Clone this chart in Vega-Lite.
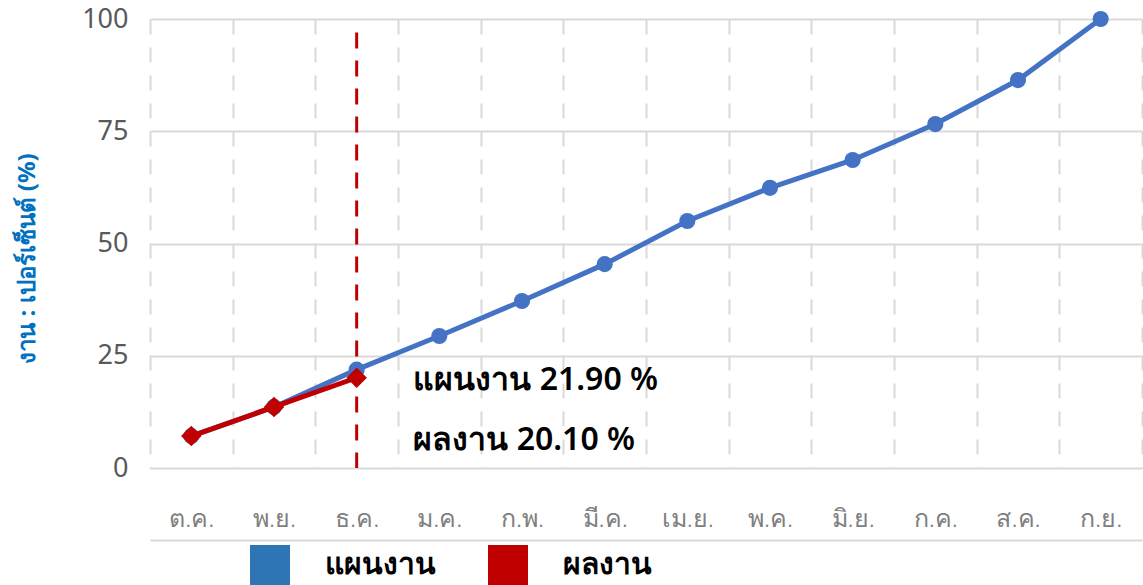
{
  "$schema": "https://vega.github.io/schema/vega-lite/v6.json",
  "width": 992,
  "height": 449,
  "autosize": {"type": "none"},
  "padding": {"left": 150, "top": 19, "right": 1, "bottom": 117},
  "background": "white",
  "config": {
    "view": {"stroke": null},
    "font": "Noto Sans"
  },
  "datasets": {
    "main": [
      {"month": "ต.ค.", "series": "แผนงาน", "value": 7.1},
      {"month": "พ.ย.", "series": "แผนงาน", "value": 13.6},
      {"month": "ธ.ค.", "series": "แผนงาน", "value": 21.9},
      {"month": "ม.ค.", "series": "แผนงาน", "value": 29.4},
      {"month": "ก.พ.", "series": "แผนงาน", "value": 37.2},
      {"month": "มี.ค.", "series": "แผนงาน", "value": 45.4},
      {"month": "เม.ย.", "series": "แผนงาน", "value": 55.0},
      {"month": "พ.ค.", "series": "แผนงาน", "value": 62.4},
      {"month": "มิ.ย.", "series": "แผนงาน", "value": 68.6},
      {"month": "ก.ค.", "series": "แผนงาน", "value": 76.6},
      {"month": "ส.ค.", "series": "แผนงาน", "value": 86.4},
      {"month": "ก.ย.", "series": "แผนงาน", "value": 100},
      {"month": "ต.ค.", "series": "ผลงาน", "value": 7.1},
      {"month": "พ.ย.", "series": "ผลงาน", "value": 13.6},
      {"month": "ธ.ค.", "series": "ผลงาน", "value": 20.1}
    ],
    "marker": [{"month": "ธ.ค.", "top": 97, "bottom": 0}],
    "notes": [
      {"month": "ม.ค.", "value": 19.6, "label": "แผนงาน 21.90 %"},
      {"month": "ม.ค.", "value": 6.3, "label": "ผลงาน 20.10 %"}
    ]
  },
  "encoding": {
    "x": {
      "field": "month",
      "type": "ordinal",
      "sort": ["ต.ค.", "พ.ย.", "ธ.ค.", "ม.ค.", "ก.พ.", "มี.ค.", "เม.ย.", "พ.ค.", "มิ.ย.", "ก.ค.", "ส.ค.", "ก.ย."],
      "scale": {"domain": ["ต.ค.", "พ.ย.", "ธ.ค.", "ม.ค.", "ก.พ.", "มี.ค.", "เม.ย.", "พ.ค.", "มิ.ย.", "ก.ค.", "ส.ค.", "ก.ย."]},
      "axis": {
        "title": null,
        "labelAngle": 0,
        "tickBand": "extent",
        "grid": true,
        "gridDash": [15, 13],
        "gridColor": "#d9d9d9",
        "gridWidth": 2,
        "ticks": false,
        "domain": true,
        "domainColor": "#d9d9d9",
        "domainWidth": 2,
        "offset": 72,
        "labelPadding": -22,
        "labelBaseline": "middle",
        "labelFontSize": 25,
        "labelFontWeight": 300,
        "labelColor": "#808080"
      }
    }
  },
  "layer": [
    {
      "data": {"name": "marker"},
      "mark": {"type": "rule", "color": "#C00000", "strokeWidth": 3, "strokeDash": [16, 12]},
      "encoding": {
        "y": {"field": "top", "type": "quantitative", "scale": {"domain": [0, 100]},
          "axis": {
            "values": [0, 25, 50, 75, 100],
            "grid": true,
            "gridColor": "#d9d9d9",
            "gridWidth": 2,
            "domain": false,
            "ticks": false,
            "labelPadding": 22,
            "labelFontSize": 27,
            "labelColor": "#595959",
            "title": "งาน : เปอร์เซ็นต์ (%)",
            "titleColor": "#0070C0",
            "titleFontSize": 24,
            "titleFontWeight": "bold",
            "titleAngle": -90,
            "titleX": -111,
            "titleY": 239
          }},
        "y2": {"field": "bottom"}
      }
    },
    {
      "data": {"name": "main"},
      "mark": {"type": "point", "shape": "square", "filled": true, "opacity": 0, "size": 1},
      "encoding": {
        "y": {"field": "value", "type": "quantitative"},
        "color": {
          "field": "series",
          "type": "nominal",
          "scale": {"domain": ["แผนงาน", "ผลงาน"], "range": ["#2E75B6", "#C00000"]},
          "legend": {
            "title": null,
            "orient": "none",
            "direction": "horizontal",
            "legendX": 100,
            "legendY": 526,
            "symbolType": "square",
            "symbolSize": 1600,
            "symbolStrokeWidth": 0,
            "symbolOpacity": 1,
            "labelFontSize": 30,
            "labelFontWeight": "bold",
            "labelColor": "#000000",
            "labelOffset": 35,
            "columnPadding": 52,
            "padding": 0,
            "labelLimit": 300
          }
        }
      }
    },
    {
      "data": {"name": "main"},
      "transform": [{"filter": "datum.series === 'แผนงาน'"}],
      "mark": {"type": "line", "color": "#4472C4", "strokeWidth": 5},
      "encoding": {"y": {"field": "value", "type": "quantitative"}}
    },
    {
      "data": {"name": "main"},
      "transform": [{"filter": "datum.series === 'แผนงาน'"}],
      "mark": {"type": "point", "shape": "circle", "filled": true, "opacity": 1, "size": 260, "color": "#4472C4"},
      "encoding": {"y": {"field": "value", "type": "quantitative"}}
    },
    {
      "data": {"name": "main"},
      "transform": [{"filter": "datum.series === 'ผลงาน'"}],
      "mark": {"type": "line", "color": "#C00000", "strokeWidth": 5},
      "encoding": {"y": {"field": "value", "type": "quantitative"}}
    },
    {
      "data": {"name": "main"},
      "transform": [{"filter": "datum.series === 'ผลงาน'"}],
      "mark": {"type": "point", "shape": "diamond", "filled": true, "opacity": 1, "size": 420, "color": "#C00000"},
      "encoding": {"y": {"field": "value", "type": "quantitative"}}
    },
    {
      "data": {"name": "notes"},
      "mark": {"type": "text", "align": "left", "baseline": "middle", "dx": -26, "fontSize": 32, "fontWeight": 600, "color": "#000000"},
      "encoding": {
        "y": {"field": "value", "type": "quantitative"},
        "text": {"field": "label"}
      }
    }
  ]
}
